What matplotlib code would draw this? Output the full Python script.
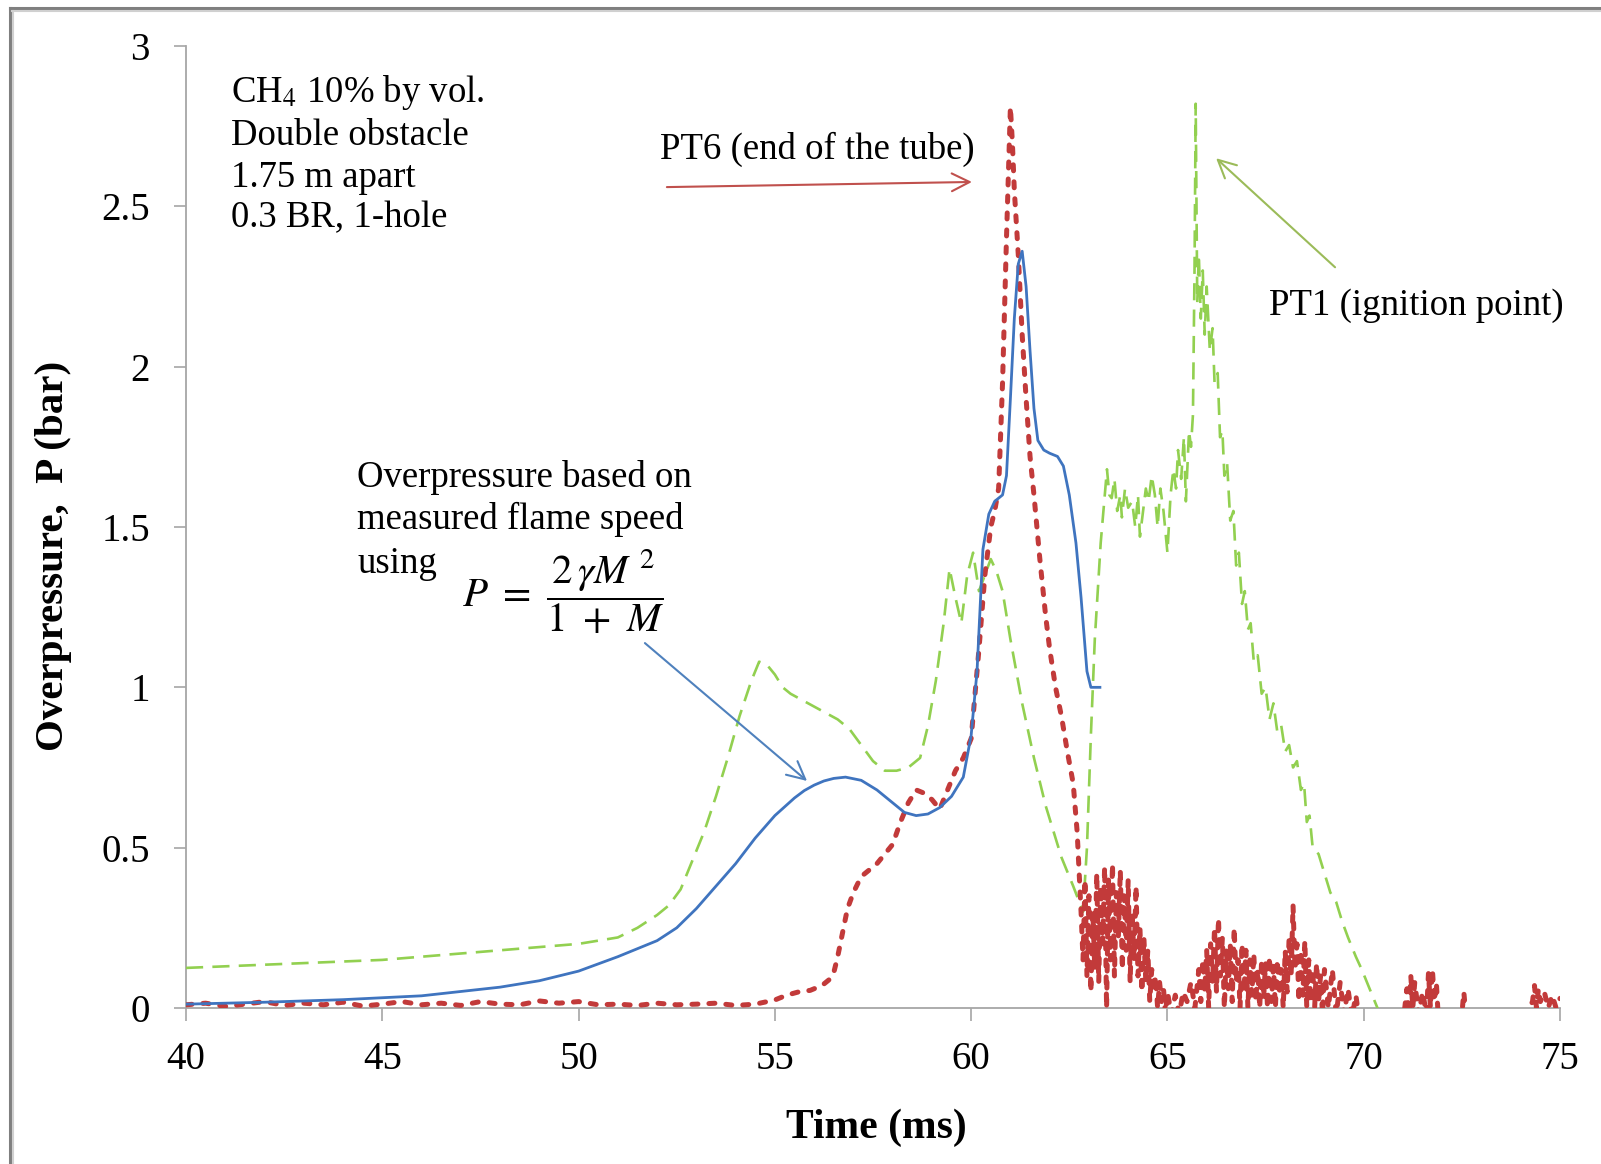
import matplotlib
matplotlib.use("Agg")
import matplotlib.pyplot as plt
from matplotlib.lines import Line2D

# ---------------- data ----------------
x_ticks = [40, 45, 50, 55, 60, 65, 70, 75]
y_ticks = [0, 0.5, 1, 1.5, 2, 2.5, 3]
y_tick_labels = ["0", "0.5", "1", "1.5", "2", "2.5", "3"]

# Overpressure based on measured flame speed (blue, solid)
blue_time = [40, 42, 44, 46, 48, 49, 50, 51, 52, 52.5, 53, 53.5, 54, 54.5, 55,
             55.5, 55.75, 56, 56.25, 56.5, 56.8, 57.2, 57.6, 58.0, 58.3, 58.6,
             58.9, 59.2, 59.5, 59.8, 60.0, 60.15, 60.3, 60.45, 60.6, 60.8,
             60.9, 61.0, 61.1, 61.2, 61.3, 61.4, 61.5, 61.6, 61.7, 61.85,
             62.0, 62.2, 62.35, 62.5, 62.67, 62.8, 62.95, 63.05, 63.28]
blue_press = [0.012, 0.018, 0.026, 0.038, 0.065, 0.085, 0.115, 0.16, 0.21,
              0.25, 0.31, 0.38, 0.45, 0.53, 0.60, 0.655, 0.678, 0.695, 0.708,
              0.716, 0.72, 0.71, 0.68, 0.64, 0.61, 0.60, 0.605, 0.625, 0.66,
              0.72, 0.85, 1.05, 1.43, 1.54, 1.58, 1.60, 1.66, 1.9, 2.15, 2.32,
              2.36, 2.25, 2.05, 1.87, 1.77, 1.74, 1.73, 1.72, 1.69, 1.6, 1.45,
              1.28, 1.05, 1.0, 1.0]

# PT1 (ignition point) (green, dashed)
green_time = [40, 41, 42, 43, 44, 45, 46, 47, 48, 49, 50, 50.5, 51, 51.5, 52,
              52.3, 52.6, 52.9, 53.2, 53.5, 53.8, 54.1, 54.4, 54.6, 54.8, 55.0,
              55.2, 55.4, 55.7, 56.0, 56.3, 56.6, 56.9, 57.2, 57.5, 57.8, 58.1,
              58.4, 58.7, 58.9, 59.1, 59.3, 59.45, 59.6, 59.75, 59.9, 60.05,
              60.2, 60.35, 60.5, 60.65, 60.8, 61.0, 61.3, 61.6, 61.9, 62.3,
              62.6, 62.85, 62.95, 63.05, 63.15, 63.3, 63.46, 63.52, 63.58,
              63.65, 63.72, 63.8, 63.84, 63.92, 64.0, 64.1, 64.18, 64.25, 64.3,
              64.38, 64.45, 64.52, 64.6, 64.68, 64.75, 64.82, 64.9, 65.0,
              65.08, 65.15, 65.22, 65.27, 65.35, 65.42, 65.47, 65.55, 65.6,
              65.65, 65.69, 65.72, 65.76, 65.8, 65.85, 65.9, 65.95, 66.0,
              66.08, 66.15, 66.2, 66.28, 66.34, 66.4, 66.45, 66.52, 66.6,
              66.68, 66.75, 66.82, 66.9, 66.97, 67.05, 67.12, 67.2, 67.3,
              67.4, 67.5, 67.6, 67.7, 67.8, 67.9, 68.0, 68.1, 68.2, 68.3,
              68.4, 68.48, 68.55, 68.62, 68.7, 68.85, 69.0, 69.15, 69.3,
              69.45, 69.6, 69.8, 69.95, 70.15, 70.35, 70.6, 71.0]
green_press = [0.125, 0.13, 0.135, 0.14, 0.145, 0.15, 0.16, 0.17, 0.18, 0.19,
               0.20, 0.21, 0.22, 0.25, 0.29, 0.32, 0.37, 0.46, 0.55, 0.66,
               0.78, 0.91, 1.02, 1.08, 1.07, 1.04, 1.0, 0.98, 0.96, 0.94, 0.92,
               0.90, 0.87, 0.82, 0.77, 0.74, 0.74, 0.75, 0.78, 0.88, 1.02, 1.2,
               1.37, 1.28, 1.2, 1.35, 1.42, 1.30, 1.35, 1.40, 1.36, 1.30, 1.15,
               0.95, 0.78, 0.63, 0.47, 0.38, 0.30, 0.50, 0.85, 1.15, 1.45,
               1.68, 1.60, 1.59, 1.65, 1.55, 1.60, 1.53, 1.62, 1.56, 1.58,
               1.50, 1.60, 1.47, 1.55, 1.62, 1.58, 1.66, 1.60, 1.50, 1.62,
               1.55, 1.42, 1.60, 1.68, 1.62, 1.74, 1.65, 1.78, 1.58, 1.80,
               1.75, 1.85, 2.3, 2.82, 2.2, 2.35, 2.15, 2.3, 2.1, 2.25, 2.05,
               2.12, 1.95, 1.98, 1.78, 1.8, 1.66, 1.7, 1.52, 1.55, 1.38, 1.42,
               1.26, 1.3, 1.18, 1.2, 1.08, 1.1, 0.98, 1.0, 0.9, 0.95, 0.86,
               0.88, 0.8, 0.82, 0.75, 0.77, 0.68, 0.7, 0.58, 0.6, 0.5, 0.48,
               0.42, 0.36, 0.33, 0.27, 0.22, 0.16, 0.12, 0.06, 0.0, -0.05,
               -0.05]

# PT6 (end of the tube) (red, dotted)
red_time = [40, 40.5, 41, 41.5, 42, 42.5, 43, 43.5, 44, 44.5, 45, 45.5, 46,
            46.5, 47, 47.5, 48, 48.5, 49, 49.5, 50, 50.5, 51, 51.5, 52, 52.5,
            53, 53.5, 54, 54.5, 55,
            55.3, 55.6, 55.9, 56.2, 56.4, 56.5, 56.6, 56.7, 56.85, 57.0, 57.2,
            57.4, 57.6, 57.8, 58.0, 58.2, 58.4, 58.6, 58.8, 59.0, 59.2, 59.4,
            59.6, 59.8, 60.0, 60.2, 60.35, 60.5, 60.6, 60.7, 60.8, 60.9, 61.0,
            61.05, 61.1, 61.2, 61.3, 61.4, 61.5, 61.6, 61.75, 61.9, 62.0,
            62.15, 62.3, 62.45, 62.6, 62.7, 62.8,
            62.85, 62.9, 62.95, 63.0, 63.05, 63.1, 63.15, 63.2, 63.25, 63.3,
            63.35, 63.4, 63.45, 63.5, 63.55, 63.6, 63.65, 63.7, 63.75, 63.8,
            63.85, 63.9, 63.95, 64.0, 64.05, 64.1, 64.15, 64.2, 64.25, 64.3,
            64.35, 64.4, 64.45, 64.5, 64.55, 64.6, 64.65, 64.7, 64.75, 64.8,
            64.85, 64.9, 64.95, 65.0,
            65.1, 65.2, 65.3, 65.4, 65.5, 65.6, 65.7,
            65.8, 65.85, 65.9, 65.95, 66.0, 66.05, 66.1, 66.15, 66.2, 66.25,
            66.3, 66.35, 66.4, 66.45, 66.5, 66.55, 66.6, 66.65, 66.7, 66.75,
            66.8, 66.85, 66.9, 66.95, 67.0, 67.05, 67.1, 67.15, 67.2, 67.25,
            67.3, 67.35, 67.4, 67.45, 67.5, 67.55, 67.6, 67.65, 67.7, 67.75,
            67.8, 67.85, 67.9, 67.95, 68.0, 68.05, 68.1, 68.15, 68.2, 68.25,
            68.3, 68.35, 68.4, 68.45, 68.5, 68.55, 68.6, 68.65, 68.7, 68.75,
            68.8, 68.85, 68.9, 68.95, 69.0, 69.1, 69.2, 69.3, 69.4, 69.5,
            69.6, 69.7, 69.8, 69.9,
            70.5, 71.0,
            71.1, 71.15, 71.2, 71.25, 71.3, 71.4, 71.5, 71.6, 71.65, 71.7,
            71.75, 71.8, 71.85, 71.9, 72.2, 72.5, 72.55, 72.6, 73.0, 74.0,
            74.3, 74.35, 74.4, 74.45, 74.5, 74.6, 74.7, 74.8, 74.9, 75.0]
red_press = [0.01, 0.015, 0.005, 0.012, 0.02, 0.008, 0.015, 0.01, 0.018, 0.006,
             0.012, 0.02, 0.01, 0.015, 0.008, 0.02, 0.012, 0.01, 0.022, 0.015,
             0.02, 0.01, 0.012, 0.008, 0.015, 0.01, 0.012, 0.015, 0.008, 0.012,
             0.025,
             0.04, 0.05, 0.055, 0.07, 0.09, 0.11, 0.16, 0.22, 0.31, 0.36, 0.41,
             0.43, 0.45, 0.48, 0.51, 0.58, 0.64, 0.68, 0.67, 0.65, 0.62, 0.68,
             0.74, 0.78, 0.84, 1.12, 1.35, 1.5, 1.55, 1.62, 1.95, 2.4, 2.81,
             2.7, 2.55, 2.35, 2.1, 1.9, 1.72, 1.6, 1.4, 1.22, 1.12, 1.0, 0.91,
             0.8, 0.70, 0.55, 0.3,
             0.15, 0.40, 0.10, 0.35, 0.05, 0.30, 0.12, 0.42, 0.08, 0.38, 0.20,
             0.44, 0.00, 0.40, 0.15, 0.45, 0.10, 0.36, 0.22, 0.43, 0.12, 0.35,
             0.18, 0.40, 0.08, 0.30, 0.15, 0.38, 0.10, 0.25, 0.05, 0.22, 0.08,
             0.18, 0.02, 0.12, 0.05, 0.10, 0.00, 0.08, 0.02, 0.06, -0.02, 0.05,
             -0.02, 0.04, -0.02, 0.05, 0.02, 0.08, 0.0,
             0.12, 0.02, 0.15, 0.05, 0.18, 0.0, 0.20, 0.08, 0.25, 0.05, 0.28,
             0.10, 0.22, 0.0, 0.18, 0.06, 0.2, 0.02, 0.25, 0.08, 0.15, 0.0, 0.2,
             0.05, 0.18, 0.0, 0.15, 0.04, 0.17, 0.02, 0.12, 0.0, 0.15, 0.03,
             0.14, 0.0, 0.16, 0.02, 0.13, 0.0, 0.15, 0.04, 0.12, 0.0, 0.18,
             0.05, 0.22, 0.10, 0.32, 0.12, 0.2, 0.02, 0.18, 0.04, 0.21, 0.0,
             0.15, 0.02, 0.12, 0.0, 0.14, 0.02, 0.1, -0.02, 0.12, 0.0, 0.12,
             -0.02, 0.08, -0.02, 0.06, -0.03, 0.04, -0.05,
             -0.05, -0.05,
             0.06, -0.02, 0.10, 0.0, 0.08, -0.02, 0.05, -0.02, 0.11, 0.0, 0.12,
             0.02, 0.08, -0.03, -0.05, -0.02, 0.05, -0.02, -0.05, -0.05,
             0.02, 0.07, 0.0, 0.06, 0.02, 0.05, 0.0, 0.04, 0.0, 0.03]

assert len(red_time) == len(red_press)
assert len(green_time) == len(green_press)
assert len(blue_time) == len(blue_press)

# ---------------- styling ----------------
plt.rcParams["font.family"] = ["Liberation Serif", "DejaVu Serif"]
plt.rcParams["mathtext.fontset"] = "stix"

W, H = 1601, 1164
fig = plt.figure(figsize=(W / 100, H / 100), dpi=100)
fig.patch.set_facecolor("white")

x0, x1, ytop, ybot = 186, 1560, 46, 1008
ax = fig.add_axes([x0 / W, 1 - ybot / H, (x1 - x0) / W, (ybot - ytop) / H])

GREEN = "#92D050"
RED = "#C23A3A"
BLUE = "#3F74BF"

ax.plot(green_time, green_press, color=GREEN, lw=1.9, dashes=(6.5, 3.5),
        zorder=2)
ax.plot(red_time, red_press, color=RED, lw=3.6, dashes=(1.2, 2.2),
        dash_capstyle="round", zorder=3)
ax.plot(blue_time, blue_press, color=BLUE, lw=2.0, zorder=4,
        solid_joinstyle="round")

ax.set_xlim(40, 75)
ax.set_ylim(0, 3)
ax.set_xticks(x_ticks)
ax.set_xticklabels([str(v) for v in x_ticks])
ax.set_yticks(y_ticks)
ax.set_yticklabels(y_tick_labels)

for s in ["top", "right"]:
    ax.spines[s].set_visible(False)
for s in ["left", "bottom"]:
    ax.spines[s].set_color("#A6A6A6")
    ax.spines[s].set_linewidth(1.3)
    ax.spines[s].set_zorder(1)

ax.tick_params(axis="both", direction="out", length=9, width=1.2,
               color="#A6A6A6", labelsize=28, labelcolor="black")
ax.tick_params(axis="x", pad=15)
ax.tick_params(axis="y", pad=17)

# annotations
TXT = 26.5
LS = 1.25
ax.text(41.15, 2.915, "CH$_4$ 10% by vol.\nDouble obstacle\n1.75 m apart\n0.3 BR, 1-hole",
        fontsize=TXT, ha="left", va="top", linespacing=LS)

ax.text(52.07, 2.647, "PT6 (end of the tube)", fontsize=TXT, ha="left",
        va="baseline")
ax.annotate("", xy=(60.02, 2.576), xytext=(52.25, 2.56),
            arrowprops=dict(arrowstyle="->", color="#C0504D", lw=1.5,
                            mutation_scale=32, shrinkA=0, shrinkB=0))

ax.text(67.59, 2.16, "PT1 (ignition point)", fontsize=TXT, ha="left",
        va="baseline", clip_on=False)
ax.annotate("", xy=(66.24, 2.65), xytext=(69.27, 2.31),
            arrowprops=dict(arrowstyle="->", color="#9BBB59", lw=1.5,
                            mutation_scale=32, shrinkA=0, shrinkB=0))

ax.text(44.36, 1.71, "Overpressure based on\nmeasured flame speed",
        fontsize=TXT, ha="left", va="top", linespacing=LS)
ax.text(44.36, 1.355, "using", fontsize=TXT, ha="left", va="baseline")
ax.text(49.62, 1.30, r"$P\ =\ \dfrac{2\,\gamma M^{\ 2}}{1\ +\ M}$",
        fontsize=29.5, ha="center", va="center")
ax.annotate("", xy=(55.82, 0.708), xytext=(51.69, 1.138),
            arrowprops=dict(arrowstyle="->", color="#4F81BD", lw=1.5,
                            mutation_scale=32, shrinkA=0, shrinkB=0))

# axis labels
fig.text(54 / W, 1 - 556 / H, "Overpressure,  P (bar)", rotation=90,
         fontsize=29.5, fontweight="bold", ha="center", va="center")
fig.text(876 / W, 1 - 1128 / H, "Time (ms)", fontsize=30, fontweight="bold",
         ha="center", va="center")

# outer frame (top and left edges visible in the reference)
fig.add_artist(Line2D([10 / W, 1.0], [1 - 8 / H, 1 - 8 / H],
                      transform=fig.transFigure, color="#7F7F7F", lw=2.2))
fig.add_artist(Line2D([10 / W, 10 / W], [0.0, 1 - 8 / H],
                      transform=fig.transFigure, color="#7F7F7F", lw=2.2))
fig.add_artist(Line2D([12 / W, 1.0], [1 - 11 / H, 1 - 11 / H],
                      transform=fig.transFigure, color="#D0D0D0", lw=1.5))
fig.add_artist(Line2D([13 / W, 13 / W], [0.0, 1 - 11 / H],
                      transform=fig.transFigure, color="#D0D0D0", lw=1.5))

fig.savefig("out.png", dpi=100, facecolor="white")
